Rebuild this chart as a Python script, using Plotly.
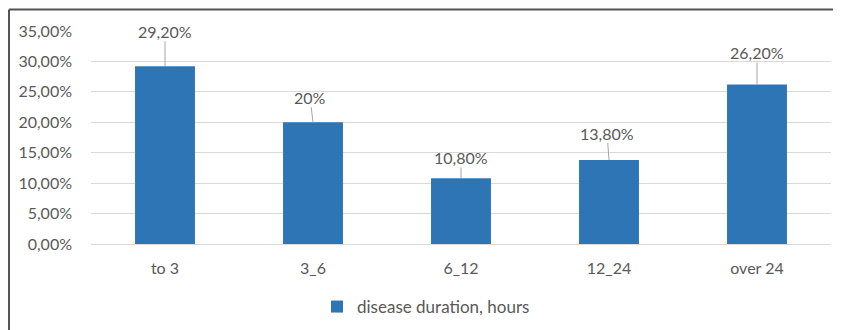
import plotly.graph_objects as go

categories = ["to 3", "3_6", "6_12", "12_24", "over 24"]
values = [29.2, 20.0, 10.8, 13.8, 26.2]
labels = ["29,20%", "20%", "10,80%", "13,80%", "26,20%"]
tick_vals = [0, 5, 10, 15, 20, 25, 30, 35]
tick_text = ["0,00%", "5,00%", "10,00%", "15,00%", "20,00%", "25,00%", "30,00%", "35,00%"]
label_offsets = [-35, -25, -21, -27, -32]
label_dx = [0, -3, 0, -2, 0]

font_family = "Lato, 'Open Sans', sans-serif"
text_color = "#595959"

# page body has an 8px margin; figure occupies page x 8..841, y 8..330
W, H = 833, 322
ML, MR, MT, MB = 83, 10, 23, 86
pw = W - ML - MR
ph = H - MT - MB

fig = go.Figure()
fig.add_trace(go.Bar(
    x=categories, y=values, name="disease duration, hours",
    marker=dict(color="#2E75B6", line=dict(width=0)),
    width=0.405,
))

for c, v, t, ay, ax in zip(categories, values, labels, label_offsets, label_dx):
    fig.add_annotation(
        x=c, y=v, text=t, showarrow=True, arrowhead=0, arrowwidth=1,
        arrowcolor="#a6a6a6", ax=ax, ay=ay, standoff=0, startstandoff=0,
        font=dict(family=font_family, size=16, color=text_color),
        borderpad=0,
    )

fig.update_layout(
    width=W, height=H,
    margin=dict(l=ML, r=MR, t=MT, b=MB, autoexpand=False),
    paper_bgcolor="white", plot_bgcolor="white",
    font=dict(family=font_family, size=16, color=text_color),
    showlegend=True,
    legend=dict(orientation="h", x=(426 - 91) / pw, xref="paper", xanchor="center",
                y=-(307 - 244 - 18) / ph, yanchor="top",
                font=dict(size=17, color=text_color), itemwidth=30),
    xaxis=dict(showgrid=False, showline=False, ticks="", tickfont=dict(size=16),
               ticklabelstandoff=13),
    yaxis=dict(range=[0, 35], tickvals=tick_vals, ticktext=tick_text,
               showgrid=True, gridcolor="#d9d9d9", gridwidth=1,
               zeroline=True, zerolinecolor="#d9d9d9", zerolinewidth=1,
               showline=False, ticks="", ticklabelstandoff=18,
               tickfont=dict(size=16)),
)

top_y = 1 + (MT - 1.5) / ph
left_x = -(ML - 1) / pw
fig.add_shape(type="line", xref="paper", yref="paper", x0=left_x, x1=1 + MR / pw,
              y0=top_y, y1=top_y, line=dict(color="#555555", width=2))
fig.add_shape(type="line", xref="paper", yref="paper", x0=left_x, x1=left_x,
              y0=top_y, y1=-MB / ph, line=dict(color="#555555", width=2))

fig.write_html("out.html")
